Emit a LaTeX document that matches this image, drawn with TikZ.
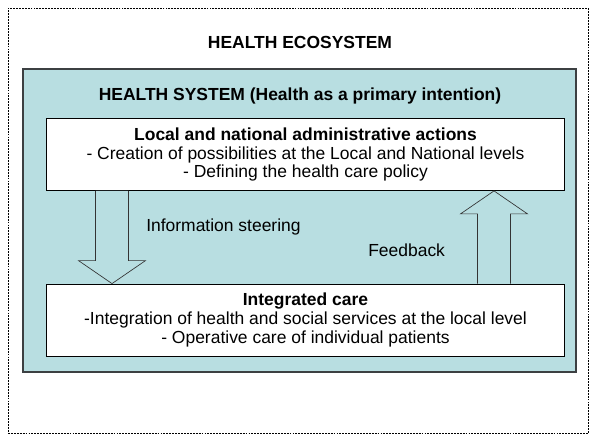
\documentclass[tikz,border=0pt]{standalone}
\usepackage{fontspec}
\setmainfont{Liberation Sans}
\usetikzlibrary{calc}
\definecolor{sysfill}{RGB}{184,222,225}
\definecolor{sysline}{RGB}{60,64,66}
\tikzset{
  box/.style={draw=black, fill=white, line width=0.6pt, minimum width=389pt, minimum height=54pt, align=center, inner sep=0pt},
  blockarrow/.style={draw=black!80, fill=sysfill, line width=0.5pt, line join=miter}
}
\begin{document}
\begin{tikzpicture}[x=0.75pt, y=-0.75pt, font=\fontsize{13.1}{14}\selectfont]
\useasboundingbox (0,0) rectangle (589,434);
\node[draw, dash pattern=on 1.4pt off 0.8pt, line width=0.5pt, minimum width=435pt, minimum height=318.75pt, inner sep=0pt] (eco) at (298,221) {};
\node[font=\fontsize{13.1}{14}\selectfont\bfseries] (ecot) at (300,42) {HEALTH ECOSYSTEM};

\node[draw=sysline, fill=sysfill, line width=0.8pt, minimum width=414.75pt, minimum height=227.25pt, inner sep=0pt] (sys) at (299.5,220.5) {};
\node[font=\fontsize{13.1}{14}\selectfont\bfseries] (syst) at (300,96) {HEALTH SYSTEM (Health as a primary intention)};

\node[box] (act) at (305.5,154.5) {\textbf{Local and national administrative actions}\\
- Creation of possibilities at the Local and National levels\\
- Defining the health care policy};
\node[box] (care) at (305.5,320) {\textbf{Integrated care}\\
-Integration of health and social services at the local level\\
- Operative care of individual patients};

\coordinate (dn) at (112,0);
\coordinate (up) at (494,0);
\draw[blockarrow] ($(act.south -| dn)+(-16.5,0)$) -- ($(care.north -| dn)+(-16.5,-23)$)
  -- ($(care.north -| dn)+(-33.5,-23)$) -- (care.north -| dn) -- ($(care.north -| dn)+(33.5,-23)$)
  -- ($(care.north -| dn)+(16.5,-23)$) -- ($(act.south -| dn)+(16.5,0)$);
\draw[blockarrow] ($(care.north -| up)+(-16.5,0)$) -- ($(act.south -| up)+(-16.5,23)$)
  -- ($(act.south -| up)+(-33.5,23)$) -- (act.south -| up) -- ($(act.south -| up)+(33.5,23)$)
  -- ($(act.south -| up)+(16.5,23)$) -- ($(care.north -| up)+(16.5,0)$);

\node[anchor=west, inner sep=0pt] (info) at (146,227) {Information steering};
\node[anchor=west, inner sep=0pt] (feed) at (368,250) {Feedback};
\end{tikzpicture}
\end{document}
